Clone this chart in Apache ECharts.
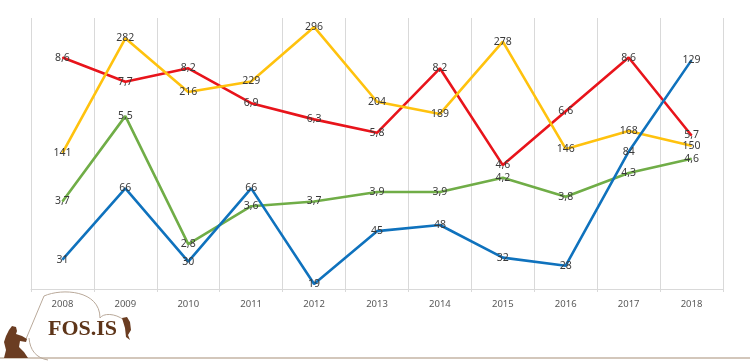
<!DOCTYPE html>
<html>
<head>
<meta charset="utf-8">
<script src="https://cdn.jsdelivr.net/npm/echarts@6/dist/echarts.min.js"></script>
<style>
html,body{margin:0;padding:0;background:#fff;}
#chart{width:750px;height:362px;}
</style>
</head>
<body>
<div id="chart"></div>
<script>
var years = ['2008','2009','2010','2011','2012','2013','2014','2015','2016','2017','2018'];
var redValues = [8.6, 7.7, 8.2, 6.9, 6.3, 5.8, 8.2, 4.6, 6.6, 8.6, 5.7];
var yellowValues = [141, 282, 216, 229, 296, 204, 189, 278, 146, 168, 150];
var greenValues = [3.7, 5.5, 2.8, 3.6, 3.7, 3.9, 3.9, 4.2, 3.8, 4.3, 4.6];
var blueValues = [31, 66, 30, 66, 19, 45, 48, 32, 28, 84, 129];

var chart = echarts.init(document.getElementById('chart'));
function fmt(p){ return String(p.value).replace('.', ','); }
function mk(name, data, color, axis){
  return {
    name: name, type: 'line', data: data, yAxisIndex: axis,
    symbol: 'circle', symbolSize: 1, showSymbol: true,
    itemStyle: {color: color},
    lineStyle: {color: color, width: 2.6},
    label: {show: true, position: 'inside', formatter: fmt,
      color: '#3a3a3a', fontSize: 10.5, fontFamily: 'Noto Sans'},
    emphasis: {disabled: true},
    animation: false
  };
}
chart.setOption({
  animation: false,
  grid: {left: 31, right: 27, top: 18, bottom: 70},
  xAxis: {
    type: 'category', data: years, boundaryGap: true,
    axisLine: {lineStyle: {color: '#d9d9d9'}},
    axisTick: {show: false},
    axisLabel: {color: '#595959', fontSize: 9.5, fontFamily: 'Noto Sans', margin: 7},
    splitLine: {show: true, lineStyle: {color: '#d9d9d9', width: 1}}
  },
  yAxis: [
    {type: 'value', show: false, min: -0.12, max: 10.07, splitLine: {show: false}},
    {type: 'value', show: false, min: -30, max: 307, splitLine: {show: false}},
    {type: 'value', show: false, min: 1.79, max: 7.57, splitLine: {show: false}},
    {type: 'value', show: false, min: 15.1, max: 149.7, splitLine: {show: false}}
  ],
  series: [
    mk('red', redValues, '#e8141b', 0),
    mk('yellow', yellowValues, '#ffc20e', 1),
    mk('green', greenValues, '#70ad47', 2),
    mk('blue', blueValues, '#0f72bd', 3)
  ],
  graphic: [
    {type: 'line', shape: {x1: 0, y1: 358, x2: 750, y2: 358}, style: {stroke: '#d3c7bb', lineWidth: 2}},
    {type: 'line', shape: {x1: 26, y1: 339, x2: 44, y2: 296}, style: {stroke: '#b9a99a', lineWidth: 1}},
    {type: 'bezierCurve', shape: {x1: 44, y1: 296, x2: 100, y2: 318, cpx1: 62, cpy1: 288, cpx2: 100, cpy2: 290}, style: {stroke: '#b9a99a', lineWidth: 1, fill: null}},
    {type: 'bezierCurve', shape: {x1: 100, y1: 318, x2: 124, y2: 320, cpx1: 103, cpy1: 313, cpx2: 115, cpy2: 313}, style: {stroke: '#b9a99a', lineWidth: 1, fill: null}},
    {type: 'bezierCurve', shape: {x1: 29, y1: 338, x2: 48, y2: 360, cpx1: 30, cpy1: 350, cpx2: 36, cpy2: 358}, style: {stroke: '#b9a99a', lineWidth: 1, fill: null}},
    {type: 'polygon', shape: {points: [[122,318],[127,317],[130,322],[131,330],[128,335],[130,340],[126,337],[125,328]]}, style: {fill: '#6b3d22'}},
    {type: 'polygon', shape: {points: [[9,330],[12,326],[16,327],[17,331],[16,334],[22,336],[27,339],[26,342],[20,341],[19,347],[24,352],[28,358],[4,358],[6,350],[4,342],[6,336]]}, style: {fill: '#6b3d22'}},
    {type: 'text', left: 48, top: 318, style: {text: 'FOS.IS', fill: '#5e3519', font: 'bold 22px "Liberation Serif"'}}
  ]
});
</script>
</body>
</html>
